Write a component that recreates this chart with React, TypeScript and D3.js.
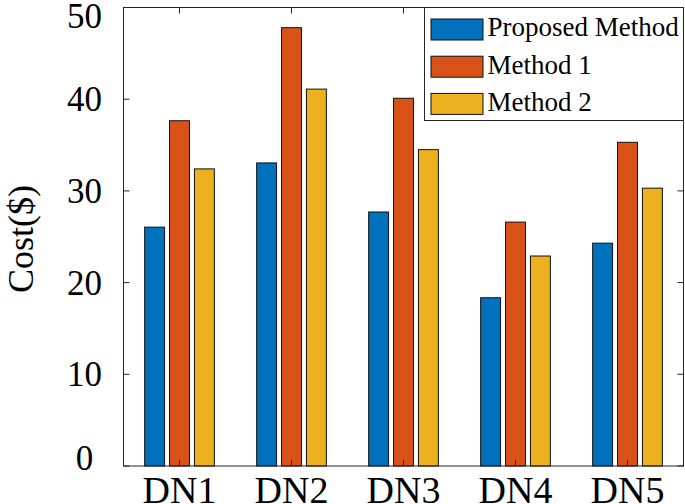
import React from "react";
import * as d3 from "d3";

const categories = ["DN1", "DN2", "DN3", "DN4", "DN5"];
const seriesNames = ["Proposed Method", "Method 1", "Method 2"];
const proposed = [26.05, 33.05, 27.7, 18.35, 24.3];
const method1 = [37.65, 47.8, 40.1, 26.6, 35.3];
const method2 = [32.4, 41.1, 34.5, 22.9, 30.3];
const yTicks = [0, 10, 20, 30, 40, 50];
const colors = ["#0072BD", "#D95319", "#EDB120"];

const W = 685;
const H = 504;
const left = 123.5;
const right = 683.5;
const top = 7.5;
const bottom = 466;
const font = "'Liberation Serif', 'Times New Roman', serif";

export default function App() {
  const series = [proposed, method1, method2];
  const x = d3.scaleLinear().domain([0.5, categories.length + 0.5]).range([left, right]);
  const y = d3.scaleLinear().domain([0, 50]).range([bottom, top]);
  const n = series.length;
  const groupWidth = Math.min(0.8, n / (n + 1.5));
  const slot = groupWidth / n;
  const barW = slot * 0.8;
  const axisColor = "#262626";

  return (
    <svg
      width={W}
      height={H}
      style={{ position: "absolute", left: 0, top: 0, background: "#fff" }}
      fontFamily={font}
    >
      <rect x={0} y={0} width={W} height={H} fill="#fff" />
      {/* bars */}
      {series.map((vals, si) =>
        vals.map((v, ci) => {
          const cx = ci + 1 + (si - (n - 1) / 2) * slot;
          const x0 = x(cx - barW / 2);
          const x1 = x(cx + barW / 2);
          return (
            <rect
              key={`${si}-${ci}`}
              x={x0}
              y={y(v)}
              width={x1 - x0}
              height={y(0) - y(v)}
              fill={colors[si]}
              stroke="#111"
              strokeWidth={1}
            />
          );
        })
      )}
      {/* axes box */}
      <rect x={left} y={top} width={right - left} height={bottom - top} fill="none" stroke={axisColor} strokeWidth={1} />
      {/* y ticks */}
      {yTicks.map((t) => {
        const yy = y(t);
        const ly = Math.max(16, Math.min(458, yy));
        return (
          <g key={t}>
            <line x1={left} x2={left + 6} y1={yy} y2={yy} stroke={axisColor} />
            <line x1={right} x2={right - 6} y1={yy} y2={yy} stroke={axisColor} />
            <text x={84.5} y={ly} dy="0.34em" textAnchor="middle" fontSize={35} fill="#000">
              {t}
            </text>
          </g>
        );
      })}
      {/* x ticks */}
      {categories.map((c, i) => {
        const xx = x(i + 1);
        return (
          <g key={c}>
            <line x1={xx} x2={xx} y1={bottom} y2={bottom - 6} stroke={axisColor} />
            <line x1={xx} x2={xx} y1={top} y2={top + 6} stroke={axisColor} />
            <text x={xx} y={502.5} textAnchor="middle" fontSize={38} fill="#000">
              {c}
            </text>
          </g>
        );
      })}
      {/* y label */}
      <text
        transform={`translate(33,239) rotate(-90)`}
        textAnchor="middle"
        fontSize={36}
        fill="#000"
      >
        Cost($)
      </text>
      {/* legend */}
      <rect x={424.5} y={top} width={right - 424.5} height={120.5 - top} fill="#fff" stroke={axisColor} strokeWidth={1} />
      {seriesNames.map((s, i) => {
        const cy = 29.5 + i * 37.2;
        return (
          <g key={s}>
            <rect x={431} y={cy - 10.5} width={52} height={21} fill={colors[i]} stroke="#111" strokeWidth={1} />
            <text x={487.5} y={cy + 6.8} fontSize={27} fill="#000">
              {s}
            </text>
          </g>
        );
      })}
    </svg>
  );
}
